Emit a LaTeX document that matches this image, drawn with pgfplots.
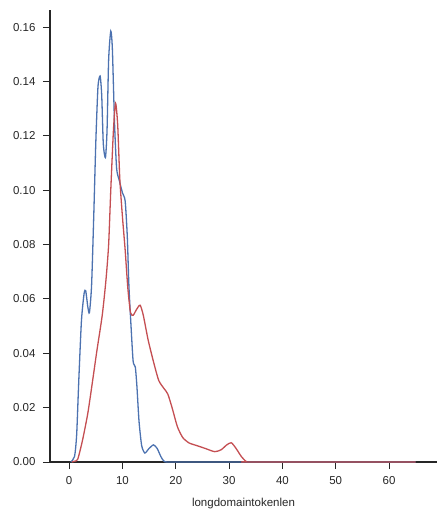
\documentclass[border=0pt]{standalone}
\usepackage{pgfplots}
\pgfplotsset{compat=1.18}
\usepackage{fontspec}
\setmainfont{Liberation Sans}
\definecolor{sbblue}{HTML}{4C72B0}
\definecolor{sbred}{HTML}{C44E52}
\definecolor{spine}{HTML}{262626}
\begin{document}
\begin{tikzpicture}
\path[use as bounding box] (-50pt,-54pt) rectangle (387pt,462pt);
\begin{axis}[
  scale only axis,
  width=387pt,
  height=452pt,
  xmin=-3.6, xmax=69,
  ymin=0, ymax=0.1663,
  axis x line*=bottom,
  axis y line*=left,
  axis line style={spine, line width=1.1pt, -},
  xtick={0,10,20,30,40,50,60},
  ytick={0,0.02,0.04,0.06,0.08,0.1,0.12,0.14,0.16},
  yticklabel style={/pgf/number format/fixed, /pgf/number format/fixed zerofill, /pgf/number format/precision=2, xshift=-4pt},
  xticklabel style={yshift=-4pt},
  /pgf/number format/assume math mode=true,
  tick align=outside,
  major tick length=7pt,
  tick style={spine, line width=1pt},
  tick label style={font=\fontsize{11.5}{13}\selectfont, text=spine},
  xlabel={longdomaintokenlen},
  xlabel style={font=\fontsize{11.5}{13}\selectfont, text=spine, yshift=-7pt},
  clip=false
]
\addplot[sbblue, line width=1.3pt, smooth, tension=0.4] coordinates {
(0.3,0) (1.0,0.002) (1.4,0.01) (1.8,0.03) (2.3,0.052) (2.8,0.062) (3.1,0.063) (3.5,0.057) (3.8,0.055) (4.2,0.065) (4.6,0.09) (5.0,0.118) (5.4,0.138) (5.8,0.142) (6.1,0.135) (6.4,0.117) (6.8,0.112) (7.1,0.122) (7.4,0.148) (7.8,0.1585) (8.1,0.152) (8.5,0.125) (8.9,0.108) (9.4,0.1036) (10.0,0.099) (10.5,0.096) (10.9,0.083) (11.2,0.065) (11.6,0.05) (12.0,0.037) (12.4,0.035) (12.7,0.028) (13.1,0.015) (13.6,0.006) (14.2,0.0033) (14.9,0.0048) (15.8,0.0063) (16.5,0.005) (17.2,0.002) (17.8,0.0003) (19,0) (30,0) (65,0)
};
\addplot[sbred, line width=1.3pt, smooth, tension=0.4] coordinates {
(0.5,0) (1.0,0.0003) (1.6,0.001) (2.5,0.008) (3.5,0.018) (4.4,0.03) (5.2,0.041) (6.2,0.054) (6.9,0.067) (7.4,0.08) (7.8,0.1) (8.3,0.122) (8.7,0.132) (9.1,0.124) (9.5,0.104) (10.0,0.09) (10.5,0.078) (11.0,0.064) (11.5,0.055) (12.0,0.054) (12.6,0.056) (13.3,0.0577) (13.9,0.054) (14.8,0.045) (15.8,0.037) (16.8,0.03) (17.8,0.027) (18.5,0.025) (19.3,0.02) (20.3,0.013) (21.3,0.009) (22.5,0.007) (24,0.006) (25.5,0.005) (27.3,0.0038) (28.5,0.0045) (29.5,0.0062) (30.4,0.0071) (31.3,0.005) (32.3,0.002) (33.2,0.0002) (34,0) (65,0)
};
\end{axis}
\end{tikzpicture}
\end{document}
